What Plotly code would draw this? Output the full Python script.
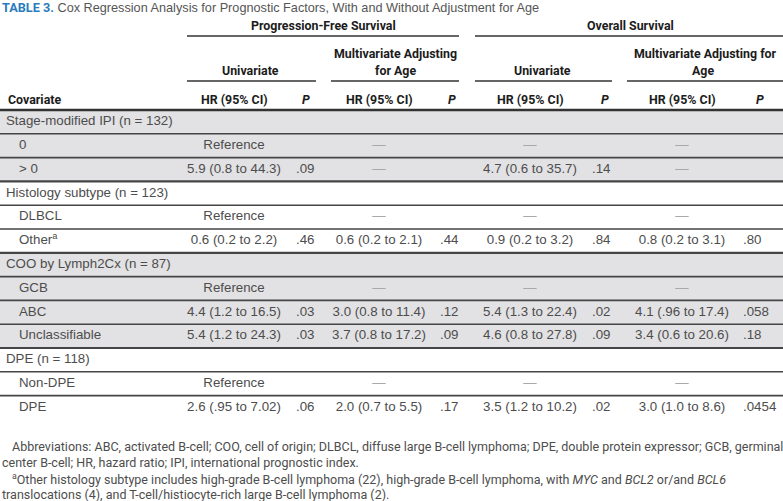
"""Table 3: Cox regression analysis for prognostic factors, drawn with Plotly."""

import plotly.graph_objects as go

# ---- table data -------------------------------------------------------------
covariates = [
    "Stage-modified IPI (n = 132)", "0", "> 0",
    "Histology subtype (n = 123)", "DLBCL", "Other<sup>a</sup>",
    "COO by Lymph2Cx (n = 87)", "GCB", "ABC", "Unclassifiable",
    "DPE (n = 118)", "Non-DPE", "DPE",
]
indented = [0, 1, 1, 0, 1, 1, 0, 1, 1, 1, 0, 1, 1]
shaded = [1, 1, 1, 0, 0, 0, 1, 1, 1, 1, 0, 0, 0]

pfs_uni_hr = ["", "Reference", "5.9 (0.8 to 44.3)", "", "Reference", "0.6 (0.2 to 2.2)",
              "", "Reference", "4.4 (1.2 to 16.5)", "5.4 (1.2 to 24.3)", "", "Reference",
              "2.6 (.95 to 7.02)"]
pfs_uni_p = ["", "", ".09", "", "", ".46", "", "", ".03", ".03", "", "", ".06"]
pfs_adj_hr = ["", "—", "—", "", "—", "0.6 (0.2 to 2.1)", "", "—", "3.0 (0.8 to 11.4)",
              "3.7 (0.8 to 17.2)", "", "—", "2.0 (0.7 to 5.5)"]
pfs_adj_p = ["", "", "", "", "", ".44", "", "", ".12", ".09", "", "", ".17"]
os_uni_hr = ["", "—", "4.7 (0.6 to 35.7)", "", "—", "0.9 (0.2 to 3.2)", "", "—",
             "5.4 (1.3 to 22.4)", "4.6 (0.8 to 27.8)", "", "—", "3.5 (1.2 to 10.2)"]
os_uni_p = ["", "", ".14", "", "", ".84", "", "", ".02", ".09", "", "", ".02"]
os_adj_hr = ["", "—", "—", "", "—", "0.8 (0.2 to 3.1)", "", "—", "4.1 (.96 to 17.4)",
             "3.4 (0.6 to 20.6)", "", "—", "3.0 (1.0 to 8.6)"]
os_adj_p = ["", "", "", "", "", ".80", "", "", ".058", ".18", "", "", ".0454"]

title = "Cox Regression Analysis for Prognostic Factors, With and Without Adjustment for Age"
footnotes = [
    "Abbreviations: ABC, activated B-cell; COO, cell of origin; DLBCL, diffuse large B-cell "
    "lymphoma; DPE, double protein expressor; GCB, germinal",
    "center B-cell; HR, hazard ratio; IPI, international prognostic index.",
    "<sup>a</sup>Other histology subtype includes high-grade B-cell lymphoma (22), high-grade "
    "B-cell lymphoma, with <i>MYC</i> and <i>BCL2</i> or/and <i>BCL6</i>",
    "translocations (4), and T-cell/histiocyte-rich large B-cell lymphoma (2).",
]

# ---- layout geometry (pixels) ----------------------------------------------
W, H = 783, 501
ROW_TOP, ROW_H = 110, 23.8
HR_X = [234, 379, 530, 682]
P_X = [296, 440, 592, 743]

BODY_FONT = "Liberation Sans, Arial, sans-serif"
HEAD_FONT = "Roboto, sans-serif"
TEXT = "#4d4d4d"
HEAD = "#1c1c1c"
RULE = "#454545"
GRAY = "#e2e1e3"

y_mid = [ROW_TOP + ROW_H * (i + 0.5) for i in range(len(covariates))]

fig = go.Figure()

# row backgrounds
fig.add_trace(
    go.Bar(
        y=y_mid,
        x=[W] * len(covariates),
        base=0,
        orientation="h",
        width=ROW_H,
        marker={"color": [GRAY if s else "white" for s in shaded], "line": {"width": 0}},
        hoverinfo="skip",
        showlegend=False,
    ),
)

# covariate labels
fig.add_trace(
    go.Scatter(
        x=[19 if ind else 6 for ind in indented],
        y=y_mid,
        text=covariates,
        mode="text",
        textposition="middle right",
        textfont={"family": BODY_FONT, "size": 13.3, "color": TEXT},
        hoverinfo="skip",
        showlegend=False,
    ),
)


def add_column(x, cells, position):
    keep = [i for i, c in enumerate(cells) if c]
    fig.add_trace(
        go.Scatter(
            x=[x] * len(keep),
            y=[y_mid[i] for i in keep],
            text=[
                f"<span style='color:#a9a9a9'>{cells[i]}</span>" if cells[i] == "—" else cells[i]
                for i in keep
            ],
            mode="text",
            textposition=position,
            textfont={"family": BODY_FONT, "size": 13.3, "color": TEXT},
            hoverinfo="skip",
            showlegend=False,
        ),
    )


for x, cells in zip(HR_X, [pfs_uni_hr, pfs_adj_hr, os_uni_hr, os_adj_hr]):
    add_column(x, cells, "middle center")
for x, cells in zip(P_X, [pfs_uni_p, pfs_adj_p, os_uni_p, os_adj_p]):
    add_column(x, cells, "middle right")

# horizontal rules between body rows
shapes = []
for i in range(1, len(covariates)):
    y = ROW_TOP + ROW_H * i
    group_break = shaded[i] != shaded[i - 1]
    shapes.append({
        "type": "line", "xref": "x", "yref": "y", "x0": 0, "x1": W, "y0": y, "y1": y,
        "line": {"color": RULE, "width": 2.2 if group_break else 1.6},
    })
shapes.append({
    "type": "line", "xref": "x", "yref": "y", "x0": 0, "x1": W, "y0": ROW_TOP, "y1": ROW_TOP,
    "line": {"color": "#333333", "width": 2.4},
})
# spanning header rules
for x0, x1, y in [(187, 459, 36), (475, W, 36), (187, 316, 81), (331, 459, 81),
                  (475, 612, 81), (627, W, 81)]:
    shapes.append({
        "type": "line", "xref": "x", "yref": "y", "x0": x0, "x1": x1, "y0": y, "y1": y,
        "line": {"color": "#333333", "width": 1.6},
    })

# header texts
annotations = []


def head(text, x, y, anchor="center", italic=False):
    annotations.append({
        "text": f"<b>{'<i>' + text + '</i>' if italic else text}</b>",
        "x": x, "y": y, "xref": "x", "yref": "y", "xanchor": anchor, "yanchor": "middle",
        "showarrow": False,
        "font": {"family": HEAD_FONT, "size": 12.4, "color": HEAD},
    })


head("Progression-Free Survival", 323, 25)
head("Overall Survival", 630, 25)
head("Univariate", 250, 70)
head("Multivariate Adjusting", 395, 53)
head("for Age", 395, 70)
head("Univariate", 542, 70)
head("Multivariate Adjusting for", 705, 53)
head("Age", 703, 70)
head("Covariate", 6, 99, anchor="left")
for x in HR_X:
    head("HR (95% CI)", x, 99)
for x in [306, 452, 605, 760]:
    head("P", x, 99, italic=True)

annotations.append({
    "text": f"<span style='font-family:Roboto;color:#2b7bbd'><b>TABLE 3.</b></span> {title}",
    "x": 0, "y": 7, "xref": "x", "yref": "y", "xanchor": "left", "yanchor": "middle",
    "showarrow": False,
    "font": {"family": BODY_FONT, "size": 12.7, "color": "#555555"},
})

for text, x, y in zip(footnotes, [10, 0, 10, 0], [446, 462, 479, 494]):
    annotations.append({
        "text": text,
        "x": x, "y": y, "xref": "x", "yref": "y", "xanchor": "left", "yanchor": "middle",
        "showarrow": False,
        "font": {"family": HEAD_FONT, "size": 12.5, "color": "#4d4d4d"},
    })

fig.update_layout(
    width=W,
    height=H,
    margin={"l": 0, "r": 0, "t": 0, "b": 0},
    paper_bgcolor="white",
    plot_bgcolor="white",
    shapes=shapes,
    annotations=annotations,
    xaxis={"range": [0, W], "visible": False, "fixedrange": True},
    yaxis={"range": [H, 0], "visible": False, "fixedrange": True},
    bargap=0,
)

fig.write_html(
    "out.html",
    config={"displayModeBar": False},
    post_script="document.body.style.margin='0';document.body.style.padding='0';",
)
